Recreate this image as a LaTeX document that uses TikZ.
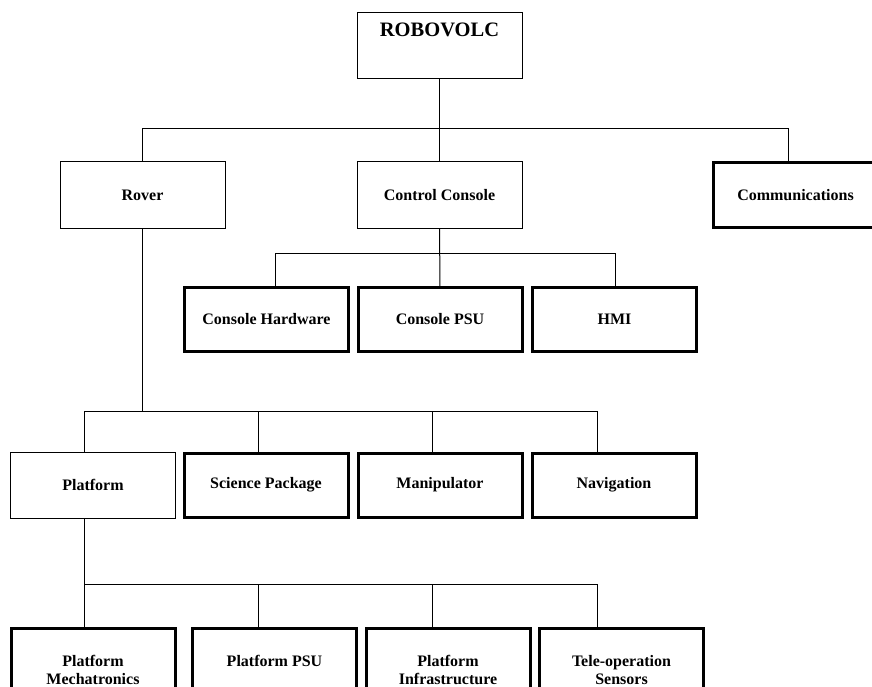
\documentclass[tikz,border=0pt]{standalone}
\usepackage{fontspec}
\setmainfont{Liberation Serif}
\begin{document}
\begin{tikzpicture}[x=1pt,y=-1pt,
  box/.style={draw, line width=1pt, rectangle, inner sep=0pt, minimum width=165pt, minimum height=66pt, align=center, font=\bfseries\fontsize{16}{17.5}\selectfont},
  tbox/.style={box, line width=3pt, minimum width=164pt, minimum height=64pt},
  conn/.style={line width=1pt}]
\useasboundingbox (0,0) rectangle (872,687);
% level 0
\node[box, font=\bfseries\fontsize{20.5}{22}\selectfont] (robo) at (439.5,45.5) {\parbox[c][66pt][t]{165pt}{\centering\rule{0pt}{24.5pt}ROBOVOLC}};
% level 1
\node[box] (rover) at (142.5,195) {Rover};
\node[box] (cc) at (439.5,195) {Control Console};
\node[tbox] (comm) at (795.5,195) {Communications};
% console children
\node[tbox] (chw) at (266.5,319.5) {Console Hardware};
\node[tbox] (cpsu) at (440,319.5) {Console PSU};
\node[tbox] (hmi) at (614.5,319.5) {HMI};
% rover children
\node[box] (plat) at (93,485) {Platform};
\node[tbox] (sci) at (266,485) {Science Package};
\node[tbox] (man) at (440,485) {Manipulator};
\node[tbox] (nav) at (614,485) {Navigation};
% platform children
\node[tbox] (pm) at (93,660.5) {\parbox[c][64pt][t]{164pt}{\centering\rule{0pt}{38pt}Platform\\Mechatronics}};
\node[tbox] (ppsu) at (274.5,660.5) {\parbox[c][64pt][t]{164pt}{\centering\rule{0pt}{38pt}Platform PSU}};
\node[tbox] (pinf) at (448,660.5) {\parbox[c][64pt][t]{164pt}{\centering\rule{0pt}{38pt}Platform\\Infrastructure}};
\node[tbox] (ts) at (621.5,660.5) {\parbox[c][64pt][t]{164pt}{\centering\rule{0pt}{38pt}Tele-operation\\Sensors}};
% bus coordinates
\coordinate (b1r) at (788,129);
\coordinate (b2l) at (275,253);
\coordinate (b2r) at (615,253);
\coordinate (b3l) at (84.5,411);
\coordinate (b3a) at (258,411);
\coordinate (b3b) at (432,411);
\coordinate (b3r) at (597,411);
\coordinate (b4l) at (84.5,584);
\coordinate (b4a) at (258,584);
\coordinate (b4b) at (432,584);
\coordinate (b4r) at (597,584);
% connectors level 1
\draw[conn] (robo) -- (cc);
\draw[conn] (rover.north) |- (b1r) -- (b1r |- comm.north);
% console
\draw[conn] (cc) -- (cpsu);
\draw[conn] (chw.north -| b2l) |- (b2r) -- (b2r |- hmi.north);
% rover
\draw[conn] (rover.south) -- (rover.south |- b3l);
\draw[conn] (plat.north -| b3l) |- (b3r) -- (b3r |- nav.north);
\draw[conn] (b3a) -- (b3a |- sci.north);
\draw[conn] (b3b) -- (b3b |- man.north);
% platform
\draw[conn] (plat.south -| b4l) -- (pm.north -| b4l);
\draw[conn] (b4l) -- (b4r) -- (b4r |- ts.north);
\draw[conn] (b4a) -- (b4a |- ppsu.north);
\draw[conn] (b4b) -- (b4b |- pinf.north);
\end{tikzpicture}
\end{document}
